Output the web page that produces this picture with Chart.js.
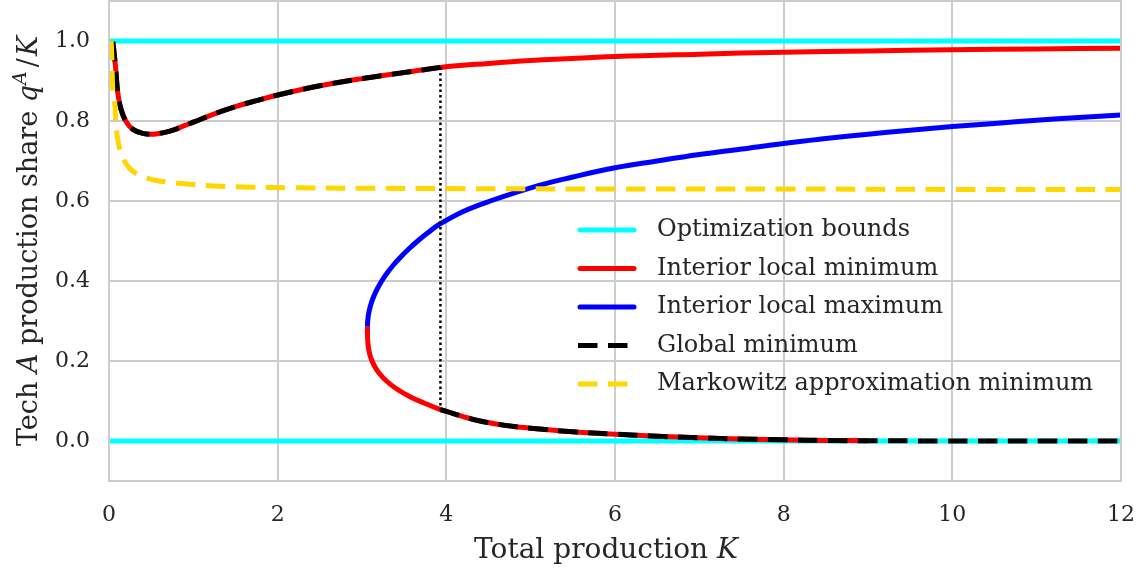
<!DOCTYPE html>
<html>
<head>
<meta charset="utf-8">
<script src="https://cdn.jsdelivr.net/npm/chart.js@4.4.1/dist/chart.umd.min.js"></script>
<style>
  html, body { margin: 0; padding: 0; background: #fff; }
  #chart { display: block; }
</style>
</head>
<body>
<canvas id="chart" width="1142" height="569"></canvas>
<script>
// ===== data =====
const xTicks = [0, 2, 4, 6, 8, 10, 12];
const yTicks = [0, 0.2, 0.4, 0.6, 0.8, 1.0];

const boundK = [0, 12];
const upperBound = [1, 1];
const lowerBound = [0, 0];

// interior local minimum, upper branch
const minUpperK = [0.045, 0.058, 0.077, 0.105, 0.144, 0.204, 0.283, 0.40, 0.53, 0.65, 0.76, 0.9, 1.0, 1.25, 1.5, 1.75, 2.0, 2.5, 3.0, 3.5, 3.93, 4.5, 5.0, 6.0, 7.0, 8.0, 9.0, 10.0, 11.0, 12.0];
const minUpperShare = [0.998, 0.975, 0.936, 0.869, 0.828, 0.798, 0.779, 0.769, 0.767, 0.771, 0.777, 0.789, 0.797, 0.818, 0.836, 0.851, 0.865, 0.888, 0.906, 0.921, 0.934, 0.944, 0.951, 0.961, 0.967, 0.972, 0.975, 0.978, 0.980, 0.982];

// interior local minimum, lower branch (starts at the fold)
const minLowerK = [3.065, 3.065, 3.068, 3.079, 3.101, 3.141, 3.202, 3.29, 3.412, 3.575, 3.735, 3.93, 4.0, 4.2, 4.4, 4.7, 5.0, 5.5, 6.0, 6.5, 7.0, 7.5, 8.0, 8.5, 9.0];
const minLowerShare = [0.286, 0.27, 0.25, 0.23, 0.21, 0.19, 0.17, 0.15, 0.13, 0.11, 0.095, 0.0785, 0.074, 0.061, 0.05, 0.039, 0.032, 0.023, 0.017, 0.012, 0.008, 0.005, 0.003, 0.0015, 0.0005];

// interior local maximum (starts at the fold)
const maxK = [3.065, 3.0675, 3.08, 3.103, 3.136, 3.18, 3.234, 3.298, 3.373, 3.459, 3.554, 3.66, 3.777, 3.92, 4.2, 4.52, 5.1, 5.5, 6.0, 6.5, 7.0, 7.5, 8.0, 8.5, 9.0, 9.4, 10.0, 10.5, 11.0, 11.5, 12.0];
const maxShare = [0.286, 0.30, 0.32, 0.34, 0.36, 0.38, 0.40, 0.42, 0.44, 0.46, 0.48, 0.50, 0.52, 0.542, 0.574, 0.600, 0.639, 0.660, 0.683, 0.700, 0.716, 0.730, 0.744, 0.756, 0.767, 0.775, 0.786, 0.794, 0.802, 0.809, 0.815];

// markowitz approximation minimum
const markK = [0.026, 0.035, 0.045, 0.065, 0.093, 0.145, 0.243, 0.40, 0.55, 0.757, 1.0, 1.232, 1.6, 2.14, 3.0, 4.0, 6.0, 8.0, 10.0, 12.0];
const markShare = [1.0, 0.95, 0.8775, 0.8525, 0.769, 0.719, 0.682, 0.661, 0.652, 0.6458, 0.641, 0.6375, 0.635, 0.633, 0.632, 0.631, 0.630, 0.630, 0.629, 0.629];

// global minimum jumps from the upper to the lower branch here, then sits on the bound
const switchK = 3.93;
const globalTailK = [12];
const globalTailShare = [0];

// ===== helpers =====
const pts = (xs, ys) => xs.map((x, i) => ({ x, y: ys[i] }));
const upperPts = pts(minUpperK, minUpperShare);
const lowerPts = pts(minLowerK, minLowerShare);
const globalUpper = upperPts.filter(p => p.x <= switchK);
const globalLower = lowerPts.filter(p => p.x >= switchK).concat(pts(globalTailK, globalTailShare));
const jump = [upperPts.find(p => p.x === switchK), lowerPts.find(p => p.x === switchK)];

const TEXT = '#262626';
const SERIF = '"DejaVu Serif", "Liberation Serif", serif';
const DASH = [19.5, 10.5];

function line(data, color, order, extra) {
  return Object.assign({
    data, borderColor: color, backgroundColor: color, borderWidth: 5,
    pointRadius: 0, showLine: true, tension: 0.4, order, borderCapStyle: 'butt'
  }, extra || {});
}

// ===== legend drawn inside the plot, no box =====
const figLegend = {
  id: 'figLegend',
  afterDraw(chart) {
    const ctx = chart.ctx;
    const items = chart.data.datasets.filter(d => d.label);
    ctx.save();
    ctx.font = '24px ' + SERIF;
    ctx.fillStyle = TEXT;
    ctx.textBaseline = 'middle';
    items.forEach((d, i) => {
      const y = 230 + i * 38.5;
      ctx.beginPath();
      ctx.setLineDash(d.borderDash || []);
      ctx.lineCap = d.borderDash ? 'butt' : 'round';
      ctx.strokeStyle = d.borderColor;
      ctx.lineWidth = d.borderWidth;
      ctx.moveTo(d.borderDash ? 578 : 580, y);
      ctx.lineTo(d.borderDash ? 636 : 634, y);
      ctx.stroke();
      ctx.fillText(d.label, 657, y);
    });
    ctx.restore();
  }
};

// ===== frame + axis titles (mixed italic) =====
function drawRuns(ctx, runs, cx, y) {
  const w = runs.map(r => { ctx.font = r.font; return ctx.measureText(r.t).width + (r.gap || 0); });
  let x = cx - w.reduce((a, b) => a + b, 0) / 2;
  runs.forEach((r, i) => {
    ctx.font = r.font;
    ctx.fillText(r.t, x, y + (r.dy || 0));
    x += w[i];
  });
}

const figFrame = {
  id: 'figFrame',
  afterDatasetsDraw(chart) {
    const { ctx, chartArea: a } = chart;
    ctx.save();
    ctx.strokeStyle = '#cccccc';
    ctx.lineWidth = 2;
    ctx.strokeRect(a.left, a.top, a.right - a.left, a.bottom - a.top);
    ctx.restore();
  },
  afterDraw(chart) {
    const { ctx, chartArea: a } = chart;
    ctx.save();
    ctx.fillStyle = TEXT;
    ctx.textBaseline = 'alphabetic';
    drawRuns(ctx, [
      { t: 'Total production ', font: '28px ' + SERIF },
      { t: 'K', font: 'italic 28px ' + SERIF }
    ], (a.left + a.right) / 2 - 9, 558);
    const rm = '27px ' + SERIF, it = 'italic 27px ' + SERIF, sup = 'italic 19px ' + SERIF;
    ctx.translate(37, (a.top + a.bottom) / 2);
    ctx.rotate(-Math.PI / 2);
    drawRuns(ctx, [
      { t: 'Tech ', font: rm }, { t: 'A', font: it }, { t: ' production share ', font: rm },
      { t: 'q', font: it }, { t: 'A', font: sup, dy: -11, gap: 4 }, { t: '/', font: rm, gap: 2 }, { t: 'K', font: it }
    ], 0, 0);
    ctx.restore();
  }
};

// ===== chart =====
new Chart(document.getElementById('chart'), {
  type: 'scatter',
  data: {
    datasets: [
      line(pts(boundK, upperBound), '#00ffff', 6, { label: 'Optimization bounds' }),
      line(pts(boundK, lowerBound), '#00ffff', 6),
      line(upperPts, '#ff0000', 5, { label: 'Interior local minimum' }),
      line(lowerPts, '#ff0000', 5),
      line(pts(maxK, maxShare), '#0000ff', 4, { label: 'Interior local maximum' }),
      line(globalUpper, '#000000', 3, { label: 'Global minimum', borderDash: DASH }),
      line(globalLower, '#000000', 3, { borderDash: DASH }),
      line(pts(markK, markShare), '#ffd700', 2, { label: 'Markowitz approximation minimum', borderDash: DASH }),
      line(jump, '#000000', 1, { borderWidth: 2.5, borderDash: [2.5, 3], tension: 0 })
    ]
  },
  options: {
    responsive: false,
    devicePixelRatio: 1,
    animation: false,
    layout: { padding: { left: 0, right: 21, top: 1, bottom: 0 } },
    plugins: { legend: { display: false }, tooltip: { enabled: false } },
    scales: {
      x: {
        type: 'linear', min: 0, max: 12,
        afterBuildTicks: s => { s.ticks = xTicks.map(v => ({ value: v })); },
        afterFit: s => { s.height = 88; s.paddingLeft = 0; s.paddingRight = 0; },
        grid: { color: '#cccccc', lineWidth: 2, drawTicks: false },
        border: { display: false },
        ticks: { color: TEXT, font: { family: SERIF, size: 22 }, padding: 21, callback: v => String(v), maxRotation: 0 }
      },
      y: {
        type: 'linear', min: -0.1, max: 1.1,
        afterBuildTicks: s => { s.ticks = yTicks.map(v => ({ value: v })); },
        afterFit: s => { s.width = 109; s.paddingTop = 0; s.paddingBottom = 0; },
        grid: { color: '#cccccc', lineWidth: 2, drawTicks: false },
        border: { display: false },
        ticks: { color: TEXT, font: { family: SERIF, size: 22 }, padding: 19, callback: v => v.toFixed(1) }
      }
    }
  },
  plugins: [figFrame, figLegend]
});
</script>
</body>
</html>
